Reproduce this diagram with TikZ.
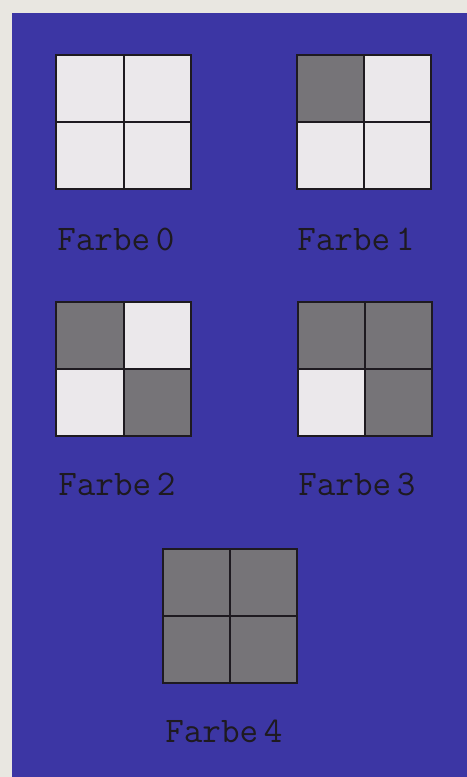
\documentclass[tikz,border=0pt]{standalone}
\usepackage{xcolor}
\usepackage{tikz}

\definecolor{farbblau}{RGB}{60,54,164}
\definecolor{papier}{RGB}{233,231,225}
\definecolor{hell}{RGB}{235,232,235}
\definecolor{dunkel}{RGB}{118,116,120}
\definecolor{tinte}{RGB}{30,26,32}
\newcommand\farbfont{\ttfamily\fontsize{20.5}{20.5}\selectfont\spaceskip=0.16em\relax}

\begin{document}
\begin{tikzpicture}[
  x=0.2mm, y=-0.2mm,
  cell/.style={draw=tinte, line width=0.4mm, minimum size=13.4mm, inner sep=0pt, fill=hell},
  dark/.style={cell, fill=dunkel},
  lbl/.style={anchor=base west, inner sep=0pt, text=tinte, font=\farbfont},
]
\useasboundingbox (0,0) rectangle (467,777);
% background
\fill[papier] (0,0) rectangle (467,777);
\fill[farbblau] (12,13) rectangle (467,777);
% row 1
\node[cell] (f0a) at (90,88)  {};
\node[cell] (f0b) at (157,88) {};
\node[cell] (f0c) at (90,155) {};
\node[cell] (f0d) at (157,155) {};
\node[lbl]  (l0)  at (57,250) {Farbe 0};
\node[dark] (f1a) at (330,88)  {};
\node[cell] (f1b) at (397,88)  {};
\node[cell] (f1c) at (330,155) {};
\node[cell] (f1d) at (397,155) {};
\node[lbl]  (l1)  at (297,250) {Farbe 1};
% row 2
\node[dark] (f2a) at (90,335)  {};
\node[cell] (f2b) at (157,335) {};
\node[cell] (f2c) at (90,402)  {};
\node[dark] (f2d) at (157,402) {};
\node[lbl]  (l2)  at (58,495)  {Farbe 2};
\node[dark] (f3a) at (331,335) {};
\node[dark] (f3b) at (398,335) {};
\node[cell] (f3c) at (331,402) {};
\node[dark] (f3d) at (398,402) {};
\node[lbl]  (l3)  at (298,495) {Farbe 3};
% row 3
\node[dark] (f4a) at (196.5,582) {};
\node[dark] (f4b) at (263.5,582) {};
\node[dark] (f4c) at (196.5,649) {};
\node[dark] (f4d) at (263.5,649) {};
\node[lbl]  (l4)  at (165,742) {Farbe 4};
\end{tikzpicture}
\end{document}
